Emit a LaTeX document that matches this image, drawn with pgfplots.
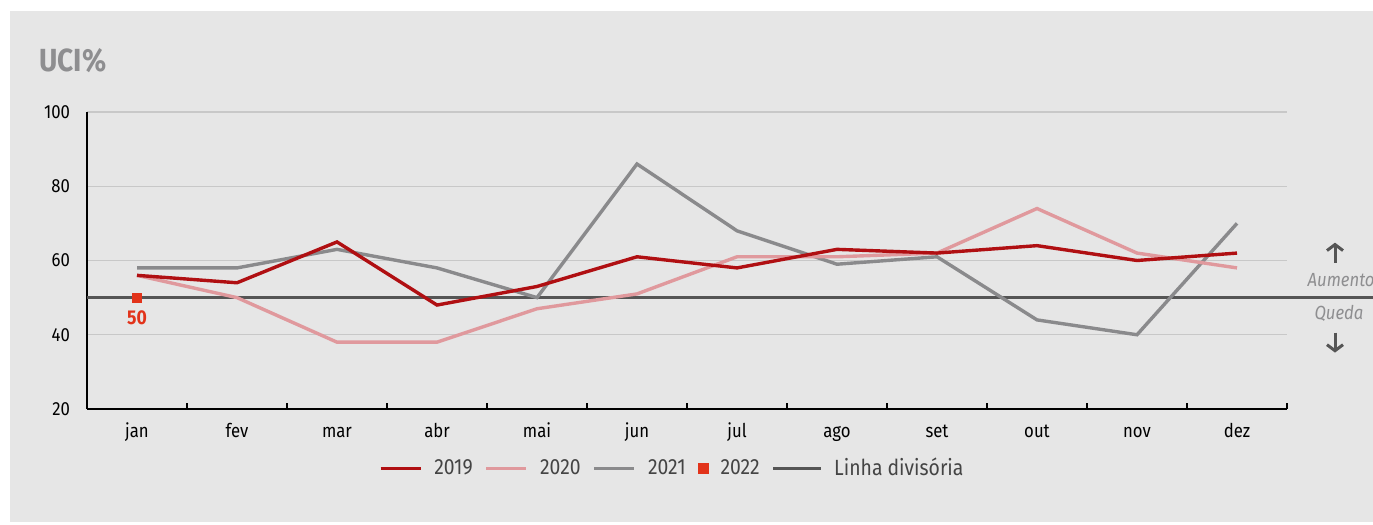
\documentclass[border=0pt]{standalone}
\usepackage{fontspec}
\setmainfont{Fira Sans}[FakeStretch=0.88]
\usepackage{pgfplots}
\pgfplotsset{compat=1.18}
\usetikzlibrary{arrows.meta}
\definecolor{bg}{HTML}{E6E6E6}
\definecolor{cA}{HTML}{B00F12}
\definecolor{cB}{HTML}{E0999D}
\definecolor{cC}{HTML}{8A8A8C}
\definecolor{cD}{HTML}{E2331A}
\definecolor{cL}{HTML}{555555}
\definecolor{titlegray}{HTML}{8E8E90}
\definecolor{gridc}{HTML}{C8C8C8}
\definecolor{txt}{HTML}{444444}
\begin{document}
\begin{tikzpicture}
\fill[white] (0pt,0pt) rectangle (686.5pt,262.5pt);
\fill[bg] (5pt,1.5pt) rectangle (686.5pt,257pt);
\node[anchor=west, inner sep=0pt, text=titlegray, font=\bfseries\fontsize{16}{16}\selectfont] at (19.5pt,232pt) {UCI\%};
\begin{axis}[
  at={(43.5pt,58pt)}, anchor=south west,
  scale only axis, width=600pt, height=148.5pt,
  xmin=-0.5, xmax=11.5, ymin=20, ymax=100,
  axis x line=bottom, axis y line=left,
  axis line style={line width=1.3pt, black, -},
  xtick={-0.5,0.5,...,11.5},
  x tick label as interval,
  xticklabels={jan,fev,mar,abr,mai,jun,jul,ago,set,out,nov,dez},
  ytick={20,40,60,80,100},
  ymajorgrids, grid style={gridc, line width=0.6pt},
  tick align=inside, major tick length=3pt,
  xtick style={black, line width=1.2pt},
  ytick style={draw=none},
  /pgf/number format/assume math mode=true,
  ticklabel style={font=\fontsize{9.5}{10}\selectfont, text=black},
  xticklabel style={yshift=-3pt, text height=1.5ex, text depth=0.3ex},
  yticklabel style={xshift=-5pt},
  clip=false,
  legend style={at={(0.4885,-0.2)}, anchor=center, draw=none, fill=none,
    font=\fontsize{11}{11}\selectfont, text=txt,
    /tikz/every odd column/.append style={column sep=4pt},
    /tikz/every even column/.append style={column sep=4pt}},
  legend columns=-1,
]
\addplot[cL, line width=1.2pt, forget plot] coordinates {(-0.5,50) (12.36,50)};
\addplot[cC, line width=1.7pt, forget plot] coordinates {
 (0,58) (1,58) (2,63) (3,58) (4,50) (5,86) (6,68) (7,59) (8,61) (9,44) (10,40) (11,70)};
\addplot[cB, line width=1.7pt, forget plot] coordinates {
 (0,56) (1,50) (2,38) (3,38) (4,47) (5,51) (6,61) (7,61) (8,62) (9,74) (10,62) (11,58)};
\addplot[cA, line width=1.7pt, forget plot] coordinates {
 (0,56) (1,54) (2,65) (3,48) (4,53) (5,61) (6,58) (7,63) (8,62) (9,64) (10,60) (11,62)};
\addplot[only marks, mark=square*, mark size=2.3pt, color=cD, forget plot,
  nodes near coords, nodes near coords align=below,
  every node near coord/.style={font=\bfseries\fontsize{10}{10}\selectfont, text=cD, yshift=-3pt}]
  coordinates {(0,50)};
\addlegendimage{legend image code/.code={\draw[cA, line width=1.7pt] (0pt,0pt) -- (20pt,0pt);}}
\addlegendentry{2019}
\addlegendimage{legend image code/.code={\draw[cB, line width=1.7pt] (0pt,0pt) -- (20pt,0pt);}}
\addlegendentry{2020}
\addlegendimage{legend image code/.code={\draw[cC, line width=1.7pt] (0pt,0pt) -- (20pt,0pt);}}
\addlegendentry{2021}
\addlegendimage{legend image code/.code={\fill[cD] (0pt,-2.5pt) rectangle (5pt,2.5pt);}}
\addlegendentry{2022\hspace{18pt}}
\addlegendimage{legend image code/.code={\draw[cL, line width=1.2pt] (0pt,0pt) -- (24pt,0pt);}}
\addlegendentry{Linha divisória}
\draw[cL, line width=1.5pt, -{Straight Barb[length=3pt,width=8pt]}] (axis cs:11.98,59.4) -- (axis cs:11.98,64.8);
\draw[cL, line width=1.5pt, -{Straight Barb[length=3pt,width=8pt]}] (axis cs:11.98,40.6) -- (axis cs:11.98,35.2);
\node[text=titlegray, font=\itshape\fontsize{9.5}{9.5}\selectfont, anchor=east, inner sep=0pt] at (axis cs:12.38,54.6) {Aumento};
\node[text=titlegray, font=\itshape\fontsize{9.5}{9.5}\selectfont, anchor=center, inner sep=0pt] at (axis cs:12.02,45.8) {Queda};
\end{axis}
\pgfresetboundingbox
\path[use as bounding box] (0pt,0pt) rectangle (686.5pt,262.5pt);
\end{tikzpicture}
\end{document}
